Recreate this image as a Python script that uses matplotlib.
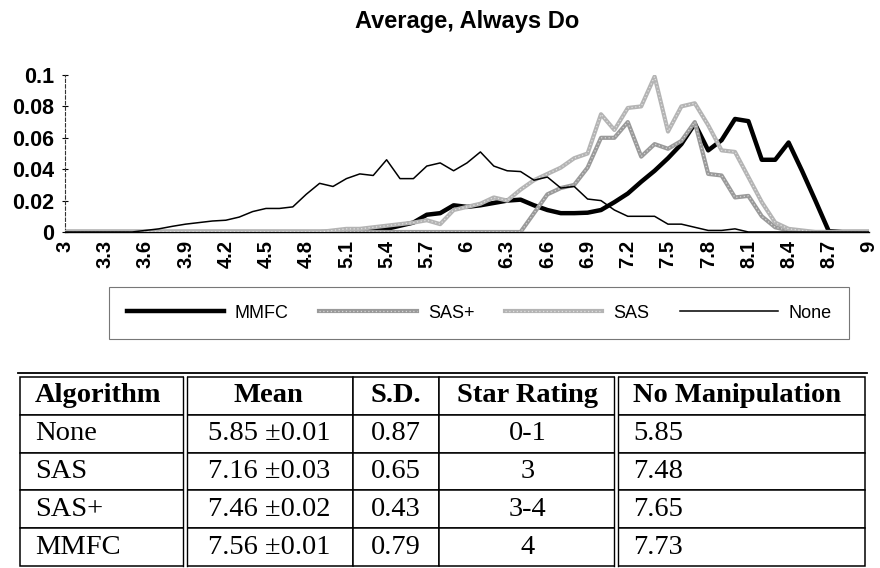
import numpy as np
import matplotlib.pyplot as plt
from matplotlib.legend_handler import HandlerTuple

plt.rcParams['font.family'] = ['Liberation Sans', 'DejaVu Sans']

# score bins 3.0 .. 9.0 (step 0.1)
bins = np.round(np.arange(30, 91) / 10, 1)

mmfc = [0, 0, 0, 0, 0, 0, 0, 0, 0, 0,
        0, 0, 0, 0, 0, 0, 0, 0, 0, 0,
        0, 0, 0, 0.001, 0.002, 0.004, 0.006, 0.011, 0.012, 0.017,
        0.016, 0.017, 0.0185, 0.020, 0.0206, 0.017, 0.014, 0.012, 0.012, 0.0123,
        0.014, 0.019, 0.0245, 0.032, 0.039, 0.047, 0.056, 0.069, 0.052, 0.0585,
        0.072, 0.0706, 0.046, 0.046, 0.057, 0.039, 0.020, 0.0005, 0, 0,
        0]

sas_plus = [0, 0, 0, 0, 0, 0, 0, 0, 0, 0,
            0, 0, 0, 0, 0, 0, 0, 0, 0, 0,
            0, 0, 0, 0, 0, 0, 0, 0, 0, 0,
            0, 0, 0, 0, 0, 0.012, 0.024, 0.028, 0.030, 0.041,
            0.060, 0.060, 0.070, 0.048, 0.056, 0.053, 0.058, 0.070, 0.037, 0.036,
            0.022, 0.023, 0.010, 0.003, 0.001, 0, 0, 0, 0, 0,
            0]

sas = [0, 0, 0, 0, 0, 0, 0, 0, 0, 0,
       0, 0, 0, 0, 0, 0, 0, 0, 0, 0,
       0.001, 0.002, 0.002, 0.003, 0.004, 0.005, 0.006, 0.0075, 0.005, 0.014,
       0.016, 0.018, 0.022, 0.020, 0.027, 0.033, 0.037, 0.041, 0.047, 0.050,
       0.075, 0.065, 0.079, 0.080, 0.099, 0.064, 0.080, 0.082, 0.068, 0.052,
       0.051, 0.035, 0.019, 0.006, 0.002, 0.001, 0, 0, 0, 0,
       0]

none = [0, 0, 0, 0, 0, 0, 0.001, 0.002, 0.0036, 0.005,
        0.006, 0.007, 0.0075, 0.0095, 0.013, 0.015, 0.015, 0.016, 0.024, 0.031,
        0.029, 0.034, 0.037, 0.036, 0.046, 0.034, 0.034, 0.042, 0.044, 0.039,
        0.044, 0.051, 0.042, 0.039, 0.0385, 0.033, 0.035, 0.028, 0.029, 0.021,
        0.020, 0.014, 0.010, 0.010, 0.010, 0.005, 0.005, 0.003, 0.001, 0.001,
        0.002, 0, 0, 0, 0, 0, 0, 0, 0, 0,
        0]

# table data
algorithms = ['None', 'SAS', 'SAS+', 'MMFC']
means = [5.85, 7.16, 7.46, 7.56]
mean_err = [0.01, 0.03, 0.02, 0.01]
sds = [0.87, 0.65, 0.43, 0.79]
stars = ['0-1', '3', '3-4', '4']
no_manip = [5.85, 7.48, 7.65, 7.73]
col_labels = ['Algorithm', 'Mean', 'S.D.', 'Star Rating', 'No Manipulation']

for s in (mmfc, sas_plus, sas, none):
    assert len(s) == len(bins)

W, H = 880, 568
fig = plt.figure(figsize=(W / 100, H / 100), dpi=100)

# ---- line chart ----
ax = fig.add_axes([65 / W, 1 - 232 / H, 804 / W, 157 / H])
l_mmfc, = ax.plot(bins, mmfc, color='black', lw=3.2, label='MMFC', zorder=3)
l_sp, = ax.plot(bins, sas_plus, color='#9a9a9a', lw=3.0, label='SAS+', zorder=4)
t_sp, = ax.plot(bins, sas_plus, color='white', lw=0.9, ls=(0, (1, 2)), alpha=0.6, zorder=4)
l_s, = ax.plot(bins, sas, color='#b4b4b4', lw=3.0, label='SAS', zorder=5)
t_s, = ax.plot(bins, sas, color='white', lw=0.9, ls=(0, (1, 2)), alpha=0.6, zorder=5)
l_none, = ax.plot(bins, none, color='black', lw=1.1, label='None', zorder=6)

ax.set_xlim(3, 9)
ax.set_ylim(0, 0.1)
ticks = bins[::3]
ax.set_xticks(ticks)
ax.set_xticklabels([f'{v:g}' for v in ticks], rotation=90, fontsize=14.5)
yt = [0, 0.02, 0.04, 0.06, 0.08, 0.1]
ax.set_yticks(yt)
ax.set_yticklabels([f'{v:g}' for v in yt], fontsize=15.5)
for lbl in ax.get_xticklabels() + ax.get_yticklabels():
    lbl.set_fontweight('bold')

ax.spines['top'].set_visible(False)
ax.spines['right'].set_visible(False)
ax.spines['left'].set_linestyle((0, (3, 2)))
ax.spines['left'].set_linewidth(0.8)
ax.spines['left'].set_color('#333333')
ax.spines['bottom'].set_linewidth(1.0)
ax.tick_params(axis='y', direction='inout', length=5, width=0.8, pad=5)
ax.tick_params(axis='x', length=0, pad=6)
ax.set_title('Average, Always Do', fontsize=17, fontweight='bold', pad=34)

leg = fig.legend([l_mmfc, (l_sp, t_sp), (l_s, t_s), l_none],
                 ['MMFC', 'SAS+', 'SAS', 'None'],
                 handler_map={tuple: HandlerTuple(ndivide=1, pad=0)},
                 loc='center', bbox_to_anchor=(479 / W, 1 - 313 / H),
                 ncol=4, fontsize=13, frameon=True, fancybox=False,
                 edgecolor='#555555', handlelength=5.4, handletextpad=0.6,
                 columnspacing=1.7, borderpad=0.95)
leg.get_frame().set_linewidth(0.8)

# ---- results table ----
tax = fig.add_axes([20 / W, 1 - 566 / H, 845 / W, 189 / H])
tax.axis('off')
col_px = [164.5, 168.5, 86, 177, 249]
cell_text = [[a, f'{m:.2f} \u00b1{e:.2f}', f'{s:.2f}', st, f'{n:.2f}']
             for a, m, e, s, st, n in zip(algorithms, means, mean_err, sds, stars, no_manip)]
tbl = tax.table(cellText=cell_text, colLabels=col_labels,
                colWidths=[c / sum(col_px) for c in col_px],
                cellLoc='center', bbox=[0, 0, 1, 1])
tbl.auto_set_font_size(False)
for (r, c), cell in tbl.get_celld().items():
    cell.set_linewidth(1.1)
    txt = cell.get_text()
    txt.set_fontfamily(['Liberation Serif', 'DejaVu Serif'])
    txt.set_fontsize(20.5)
    if r == 0:
        txt.set_fontweight('bold')
    if c == 0:
        cell._loc = 'left'
        cell.PAD = 0.09
        txt.set_ha('left')
    if c == 4:
        cell._loc = 'left'
        cell.PAD = 0.068
        txt.set_ha('left')

# double vertical rules after "Algorithm" and "Star Rating"
total = sum(col_px)
for edge in (col_px[0], sum(col_px[:4])):
    xf = edge / total
    tax.plot([xf, xf], [0, 1], color='white', lw=2.2, transform=tax.transAxes,
             clip_on=False, zorder=10)
    for dx in (-2, 2):
        tax.plot([xf + dx / total, xf + dx / total], [0, 1], color='black', lw=1.0,
                 transform=tax.transAxes, clip_on=False, zorder=11)
# rule above the table
tax.plot([-2 / total, 1 + 2 / total], [1 + 4 / 189, 1 + 4 / 189], color='black',
         lw=1.3, transform=tax.transAxes, clip_on=False)

fig.savefig('out.png', dpi=100)
